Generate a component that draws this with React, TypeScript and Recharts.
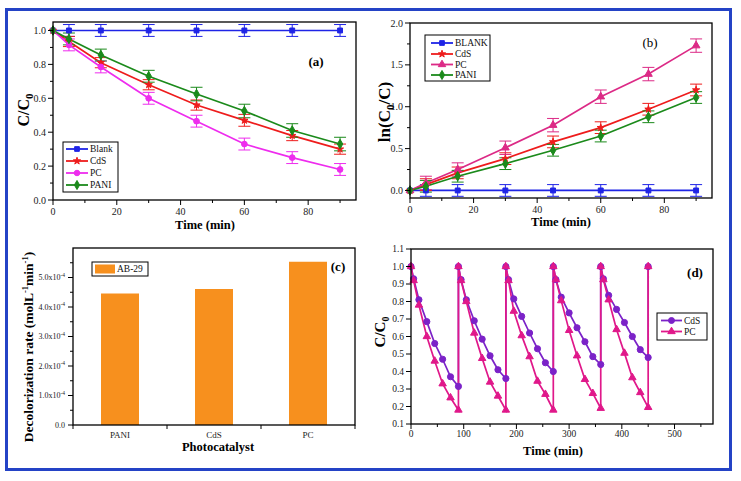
import React from 'react';
import { LineChart, Line, XAxis, YAxis, ErrorBar, BarChart, Bar, Symbols } from 'recharts';

const W = 741;
const H = 481;
const FONT = '"Liberation Serif", "Times New Roman", serif';

// ---------- Panel (a): C/C0 vs time ----------
const timesA = [0, 5, 15, 30, 45, 60, 75, 90];
const blankA = [1, 1, 1, 1, 1, 1, 1, 1];
const cdsA = [1, 0.935, 0.81, 0.68, 0.56, 0.47, 0.38, 0.3];
const pcA = [1, 0.915, 0.785, 0.6, 0.465, 0.33, 0.25, 0.18];
const paniA = [1, 0.95, 0.855, 0.73, 0.625, 0.525, 0.41, 0.33];
const errBlankA = [0, 0.035, 0.035, 0.035, 0.035, 0.035, 0.035, 0.035];
const errCdsA = [0, 0.03, 0.03, 0.03, 0.03, 0.035, 0.03, 0.03];
const errPcA = [0, 0.035, 0.035, 0.035, 0.035, 0.035, 0.035, 0.035];
const errPaniA = [0, 0.035, 0.035, 0.035, 0.04, 0.04, 0.04, 0.04];
const xTicksA = [0, 10, 20, 30, 40, 50, 60, 70, 80, 90];
const yTicksA = [0, 0.1, 0.2, 0.3, 0.4, 0.5, 0.6, 0.7, 0.8, 0.9, 1.0];

// ---------- Panel (b): ln(C0/C) vs time ----------
const timesB = [0, 5, 15, 30, 45, 60, 75, 90];
const blankB = [0, 0, 0, 0, 0, 0, 0, 0];
const cdsB = [0, 0.07, 0.21, 0.38, 0.58, 0.75, 0.97, 1.2];
const pcB = [0, 0.09, 0.25, 0.51, 0.78, 1.12, 1.39, 1.73];
const paniB = [0, 0.05, 0.17, 0.32, 0.48, 0.65, 0.88, 1.11];
const errBlankB = [0, 0.07, 0.07, 0.07, 0.07, 0.07, 0.07, 0.07];
const errCdsB = [0, 0.07, 0.07, 0.07, 0.07, 0.07, 0.07, 0.07];
const errPcB = [0, 0.08, 0.08, 0.08, 0.08, 0.08, 0.08, 0.08];
const errPaniB = [0, 0.07, 0.07, 0.07, 0.07, 0.07, 0.07, 0.07];
const yTicksB = [0, 0.25, 0.5, 0.75, 1.0, 1.25, 1.5, 1.75, 2.0];

// ---------- Panel (c): decolorization rate ----------
const catalystsC = ['PANI', 'CdS', 'PC'];
const ratesC = [4.46e-4, 4.61e-4, 5.53e-4];
const yTicksC = [0, 0.5e-4, 1e-4, 1.5e-4, 2e-4, 2.5e-4, 3e-4, 3.5e-4, 4e-4, 4.5e-4, 5e-4, 5.5e-4];

// ---------- Panel (d): recycling ----------
const cycleStarts = [0, 90, 180, 270, 360];
const cycleSteps = [0, 5, 15, 30, 45, 60, 75, 90];
const cdsCycles = [
  [1.0, 0.93, 0.81, 0.685, 0.56, 0.47, 0.37, 0.315],
  [1.0, 0.925, 0.81, 0.69, 0.585, 0.49, 0.41, 0.36],
  [1.0, 0.925, 0.815, 0.715, 0.62, 0.53, 0.45, 0.4],
  [1.0, 0.925, 0.825, 0.735, 0.65, 0.57, 0.485, 0.44],
  [1.0, 0.93, 0.835, 0.755, 0.68, 0.6, 0.525, 0.48],
];
const pcCycles = [
  [1.0, 0.92, 0.78, 0.6, 0.46, 0.33, 0.25, 0.18],
  [1.0, 0.92, 0.8, 0.62, 0.475, 0.34, 0.26, 0.18],
  [1.0, 0.92, 0.745, 0.605, 0.485, 0.345, 0.27, 0.18],
  [1.0, 0.925, 0.805, 0.635, 0.49, 0.355, 0.275, 0.19],
  [1.0, 0.925, 0.81, 0.64, 0.505, 0.365, 0.28, 0.195],
];
const finalTimeD = 450;
const finalCdsD = 1.0;
const finalPcD = 1.0;
const xTicksD = [0, 50, 100, 150, 200, 250, 300, 350, 400, 450, 500, 550];
const yTicksD = [0.1, 0.2, 0.3, 0.4, 0.5, 0.6, 0.7, 0.8, 0.9, 1.0, 1.1];

// ---------- colours ----------
const C_BLANK = '#1f24e6';
const C_CDS = '#ee1c1c';
const C_PC_A = '#ee2cee';
const C_PANI = '#1b8a1b';
const C_PC_B = '#dc2a86';
const C_CDS_D = '#7b22c8';
const C_PC_D = '#e0188a';
const C_BAR = '#f7901e';

// ---------- layout (plot areas) ----------
type Plot = { left: number; top: number; right: number; bottom: number };
const plotA: Plot = { left: 53, top: 22, right: 356, bottom: 200 };
const plotB: Plot = { left: 410, top: 23, right: 712, bottom: 198 };
const plotC: Plot = { left: 73, top: 248, right: 355, bottom: 425 };
const plotD: Plot = { left: 411, top: 249, right: 713, bottom: 424 };
const AXW = 40;
const AXH = 20;
const marginOf = (p: Plot) => ({ left: p.left - AXW, top: p.top, right: W - p.right, bottom: H - p.bottom - AXH });

// ---------- data tables ----------
const rowsA = timesA.map((t, i) => ({
  t,
  blank: blankA[i], blankErr: errBlankA[i],
  cds: cdsA[i], cdsErr: errCdsA[i],
  pc: pcA[i], pcErr: errPcA[i],
  pani: paniA[i], paniErr: errPaniA[i],
}));
const rowsB = timesB.map((t, i) => ({
  t,
  blank: blankB[i], blankErr: errBlankB[i],
  cds: cdsB[i], cdsErr: errCdsB[i],
  pc: pcB[i], pcErr: errPcB[i],
  pani: paniB[i], paniErr: errPaniB[i],
}));
const rowsC = catalystsC.map((name, i) => ({ name, rate: ratesC[i] }));
const buildCycles = (cycles: number[][], finalV: number) => [
  ...cycles.flatMap((vals, c) => vals.map((v, i) => ({ t: cycleStarts[c] + cycleSteps[i], v }))),
  { t: finalTimeD, v: finalV },
];
const cdsD = buildCycles(cdsCycles, finalCdsD);
const pcD = buildCycles(pcCycles, finalPcD);

// ---------- helpers ----------
const symDot = (type: any, color: string, size: number) => (props: any) => {
  const { cx, cy, index } = props;
  if (cx == null || cy == null) return <g key={`d${index}`} />;
  return <Symbols key={`d${index}`} cx={cx} cy={cy} type={type} size={size} fill={color} stroke={color} />;
};

const yTick = (isMajor: (v: number) => boolean, fmt: (v: number) => React.ReactNode, fs: number, gap: number) => (props: any) => {
  const { x, y, payload, index } = props;
  const v = payload.value;
  const major = isMajor(v);
  return (
    <g key={`yt${index}`}>
      <line x1={x} y1={y} x2={x - (major ? 5 : 3)} y2={y} stroke="#000" strokeWidth={1} />
      {major && (
        <text x={x - gap} y={y} dy="0.35em" textAnchor="end" fontSize={fs} fontFamily={FONT} fill="#222">
          {fmt(v)}
        </text>
      )}
    </g>
  );
};

const xTick = (isMajor: (v: number) => boolean, fs: number, gap: number) => (props: any) => {
  const { x, y, payload, index } = props;
  const v = payload.value;
  const major = isMajor(v);
  return (
    <g key={`xt${index}`}>
      <line x1={x} y1={y} x2={x} y2={y + (major ? 5 : 3)} stroke="#000" strokeWidth={1} />
      {major && (
        <text x={x} y={y + gap} textAnchor="middle" fontSize={fs} fontFamily={FONT} fill="#222">
          {v}
        </text>
      )}
    </g>
  );
};

const catTick = (props: any) => {
  const { x, y, payload, index, visibleTicksCount } = props;
  const off = typeof payload.offset === 'number' ? payload.offset : 0;
  return (
    <g key={`ct${index}`}>
      {off > 0 && <line x1={x - off} y1={y} x2={x - off} y2={y + 4} stroke="#000" />}
      {off > 0 && index === visibleTicksCount - 1 && <line x1={x + off} y1={y} x2={x + off} y2={y + 4} stroke="#000" />}
      <text x={x} y={y + 13} textAnchor="middle" fontSize={9} fontFamily={FONT} fill="#222">
        {payload.value}
      </text>
    </g>
  );
};

const fmt1 = (v: number) => v.toFixed(1);
const fmtSci = (v: number) => {
  const k = Math.round(v / 1e-4 * 10) / 10;
  if (k === 0) return '0.0';
  return (
    <>
      {k.toFixed(1) + 'x10'}
      <tspan dy={-3.5} fontSize={5.5}>-4</tspan>
    </>
  );
};

const layer: React.CSSProperties = { position: 'absolute', left: 0, top: 0 };

type LegendItem = { label: string; color: string; shape: any; size: number };
const LegendBox = ({ x, y, w, h, items, lineX1, lineX2, textX, rowY, fs }: {
  x: number; y: number; w: number; h: number; items: LegendItem[]; lineX1: number; lineX2: number; textX: number; rowY: number[]; fs: number;
}) => (
  <g>
    <rect x={x} y={y} width={w} height={h} fill="#fff" stroke="#000" strokeWidth={1} />
    {items.map((it, i) => (
      <g key={it.label}>
        <line x1={lineX1} y1={rowY[i]} x2={lineX2} y2={rowY[i]} stroke={it.color} strokeWidth={1.8} />
        <Symbols cx={(lineX1 + lineX2) / 2} cy={rowY[i]} type={it.shape} size={it.size} fill={it.color} stroke={it.color} />
        <text x={textX} y={rowY[i]} dy="0.35em" fontSize={fs} fontFamily={FONT} fill="#111">{it.label}</text>
      </g>
    ))}
  </g>
);

const frame = (p: Plot) => (
  <rect x={p.left} y={p.top} width={p.right - p.left} height={p.bottom - p.top} fill="none" stroke="#000" strokeWidth={1.3} />
);

export default function App() {
  const lineCommon = { type: 'linear' as const, isAnimationActive: false, activeDot: false as const, strokeWidth: 1.7 };
  return (
    <div style={{ position: 'absolute', left: 0, top: 0, width: W, height: H, background: '#fff', fontFamily: FONT }}>
      {/* Panel (a) */}
      <div style={layer}>
        <LineChart width={W} height={H} data={rowsA} margin={marginOf(plotA)}>
          <XAxis dataKey="t" type="number" domain={[0, 95]} ticks={xTicksA} interval={0} height={AXH}
            tickSize={0} tickMargin={0} axisLine={false} tickLine={false} tick={xTick((v) => v % 20 === 0, 10, 15)} />
          <YAxis type="number" domain={[0, 1.05]} ticks={yTicksA} interval={0} width={AXW}
            tickSize={0} tickMargin={0} axisLine={false} tickLine={false}
            tick={yTick((v) => Math.round(v * 10) % 2 === 0, fmt1, 10, 7)} />
          <Line {...lineCommon} dataKey="blank" stroke={C_BLANK} dot={symDot('square', C_BLANK, 24)}>
            <ErrorBar dataKey="blankErr" width={6} stroke={C_BLANK} strokeWidth={1} isAnimationActive={false} />
          </Line>
          <Line {...lineCommon} dataKey="cds" stroke={C_CDS} dot={symDot('star', C_CDS, 16)}>
            <ErrorBar dataKey="cdsErr" width={6} stroke={C_CDS} strokeWidth={1} isAnimationActive={false} />
          </Line>
          <Line {...lineCommon} dataKey="pc" stroke={C_PC_A} dot={symDot('circle', C_PC_A, 26)}>
            <ErrorBar dataKey="pcErr" width={6} stroke={C_PC_A} strokeWidth={1} isAnimationActive={false} />
          </Line>
          <Line {...lineCommon} dataKey="pani" stroke={C_PANI} dot={symDot('diamond', C_PANI, 26)}>
            <ErrorBar dataKey="paniErr" width={6} stroke={C_PANI} strokeWidth={1} isAnimationActive={false} />
          </Line>
        </LineChart>
      </div>

      {/* Panel (b) */}
      <div style={layer}>
        <LineChart width={W} height={H} data={rowsB} margin={marginOf(plotB)}>
          <XAxis dataKey="t" type="number" domain={[0, 95]} ticks={xTicksA} interval={0} height={AXH}
            tickSize={0} tickMargin={0} axisLine={false} tickLine={false} tick={xTick((v) => v % 20 === 0, 10, 15)} />
          <YAxis type="number" domain={[-0.09, 2.0]} ticks={yTicksB} interval={0} width={AXW}
            tickSize={0} tickMargin={0} axisLine={false} tickLine={false}
            tick={yTick((v) => Math.round(v * 4) % 2 === 0, fmt1, 10, 7)} />
          <Line {...lineCommon} dataKey="blank" stroke={C_BLANK} dot={symDot('square', C_BLANK, 24)}>
            <ErrorBar dataKey="blankErr" width={6} stroke={C_BLANK} strokeWidth={1} isAnimationActive={false} />
          </Line>
          <Line {...lineCommon} dataKey="cds" stroke={C_CDS} dot={symDot('star', C_CDS, 16)}>
            <ErrorBar dataKey="cdsErr" width={6} stroke={C_CDS} strokeWidth={1} isAnimationActive={false} />
          </Line>
          <Line {...lineCommon} dataKey="pc" stroke={C_PC_B} dot={symDot('triangle', C_PC_B, 26)}>
            <ErrorBar dataKey="pcErr" width={6} stroke={C_PC_B} strokeWidth={1} isAnimationActive={false} />
          </Line>
          <Line {...lineCommon} dataKey="pani" stroke={C_PANI} dot={symDot('diamond', C_PANI, 26)}>
            <ErrorBar dataKey="paniErr" width={6} stroke={C_PANI} strokeWidth={1} isAnimationActive={false} />
          </Line>
        </LineChart>
      </div>

      {/* Panel (c) */}
      <div style={layer}>
        <BarChart width={W} height={H} data={rowsC} margin={marginOf(plotC)}>
          <XAxis dataKey="name" type="category" height={AXH} interval={0}
            tickSize={0} tickMargin={0} axisLine={false} tickLine={false} tick={catTick} />
          <YAxis type="number" domain={[0, 6e-4]} ticks={yTicksC} interval={0} width={AXW}
            tickSize={0} tickMargin={0} axisLine={false} tickLine={false}
            tick={yTick((v) => Math.round(v * 20000) % 2 === 0, fmtSci, 8, 8)} />
          <Bar dataKey="rate" fill={C_BAR} barSize={38} isAnimationActive={false} />
        </BarChart>
      </div>

      {/* Panel (d) */}
      <div style={layer}>
        <LineChart width={W} height={H} margin={marginOf(plotD)}>
          <XAxis dataKey="t" type="number" domain={[0, 573]} ticks={xTicksD} interval={0} height={AXH}
            tickSize={0} tickMargin={0} axisLine={false} tickLine={false} tick={xTick((v) => v % 100 === 0, 9.5, 13)} />
          <YAxis type="number" domain={[0.1, 1.1]} ticks={yTicksD} interval={0} width={AXW}
            tickSize={0} tickMargin={0} axisLine={false} tickLine={false}
            tick={yTick(() => true, fmt1, 9.5, 7)} />
          <Line {...lineCommon} data={cdsD} dataKey="v" stroke={C_CDS_D} dot={symDot('circle', C_CDS_D, 30)} />
          <Line {...lineCommon} data={pcD} dataKey="v" stroke={C_PC_D} dot={symDot('triangle', C_PC_D, 24)} />
        </LineChart>
      </div>

      {/* Overlay: frames, titles, legends */}
      <svg width={W} height={H} style={{ ...layer, pointerEvents: 'none' }}>
        {frame(plotA)}
        {frame(plotB)}
        {frame(plotC)}
        {frame(plotD)}

        {/* panel labels */}
        <text x={316} y={66} textAnchor="middle" fontSize={13} fontWeight="bold" fontFamily={FONT}>(a)</text>
        <text x={650} y={47} textAnchor="middle" fontSize={13} fontFamily={FONT}>(b)</text>
        <text x={338} y={271} textAnchor="middle" fontSize={13} fontWeight="bold" fontFamily={FONT}>(c)</text>
        <text x={695} y={277} textAnchor="middle" fontSize={13} fontWeight="bold" fontFamily={FONT}>(d)</text>

        {/* x titles */}
        <text x={205} y={229} textAnchor="middle" fontSize={12.5} fontWeight="bold" fontFamily={FONT}>Time (min)</text>
        <text x={561} y={226} textAnchor="middle" fontSize={12.5} fontWeight="bold" fontFamily={FONT}>Time (min)</text>
        <text x={218} y={451} textAnchor="middle" fontSize={12.5} fontWeight="bold" fontFamily={FONT}>Photocatalyst</text>
        <text x={553} y={455} textAnchor="middle" fontSize={12.5} fontWeight="bold" fontFamily={FONT}>Time (min)</text>

        {/* y titles */}
        <text x={29} y={110} transform="rotate(-90 29 110)" textAnchor="middle" fontSize={16} fontWeight="bold" fontFamily={FONT}>
          C/C<tspan dy={4} fontSize={11}>0</tspan>
        </text>
        <text x={390} y={112} transform="rotate(-90 390 112)" textAnchor="middle" fontSize={17} fontWeight="bold" fontFamily={FONT}>
          ln(C<tspan dy={4} fontSize={11}>0</tspan><tspan dy={-4}>/C)</tspan>
        </text>
        <text x={33} y={347} transform="rotate(-90 33 347)" textAnchor="middle" fontSize={13.5} fontWeight="bold" fontFamily={FONT}>
          Decolorization rate (molL<tspan dy={-5} fontSize={8.5}>-1</tspan><tspan dy={5}>min</tspan><tspan dy={-5} fontSize={8.5}>-1</tspan><tspan dy={5}>)</tspan>
        </text>
        <text x={385} y={332} transform="rotate(-90 385 332)" textAnchor="middle" fontSize={15} fontWeight="bold" fontFamily={FONT}>
          C/C<tspan dy={4} fontSize={10}>0</tspan>
        </text>

        {/* legends */}
        <LegendBox x={63} y={142} w={55} h={50} lineX1={66} lineX2={88} textX={90} rowY={[149, 161, 173, 185]} fs={9.5}
          items={[
            { label: 'Blank', color: C_BLANK, shape: 'square', size: 22 },
            { label: 'CdS', color: C_CDS, shape: 'star', size: 16 },
            { label: 'PC', color: C_PC_A, shape: 'circle', size: 24 },
            { label: 'PANI', color: C_PANI, shape: 'diamond', size: 24 },
          ]} />
        <LegendBox x={425} y={35} w={65} h={46} lineX1={431} lineX2={453} textX={455} rowY={[43, 54, 64.5, 75]} fs={9.5}
          items={[
            { label: 'BLANK', color: C_BLANK, shape: 'square', size: 22 },
            { label: 'CdS', color: C_CDS, shape: 'star', size: 16 },
            { label: 'PC', color: C_PC_B, shape: 'triangle', size: 24 },
            { label: 'PANI', color: C_PANI, shape: 'diamond', size: 24 },
          ]} />
        <g>
          <rect x={92} y={262} width={56} height={14} fill="#fff" stroke="#000" strokeWidth={1} />
          <rect x={95} y={264.5} width={20} height={9} fill={C_BAR} />
          <text x={117} y={269} dy="0.35em" fontSize={9.5} fontFamily={FONT} fill="#111">AB-29</text>
        </g>
        <LegendBox x={657} y={313} w={50} h={27} lineX1={661} lineX2={682} textX={684} rowY={[320.5, 331.5]} fs={9.5}
          items={[
            { label: 'CdS', color: C_CDS_D, shape: 'circle', size: 28 },
            { label: 'PC', color: C_PC_D, shape: 'triangle', size: 24 },
          ]} />

        {/* outer blue frame */}
        <rect x={6.5} y={9.5} width={724} height={460} fill="none" stroke="#2443c6" strokeWidth={3} />
      </svg>
    </div>
  );
}
